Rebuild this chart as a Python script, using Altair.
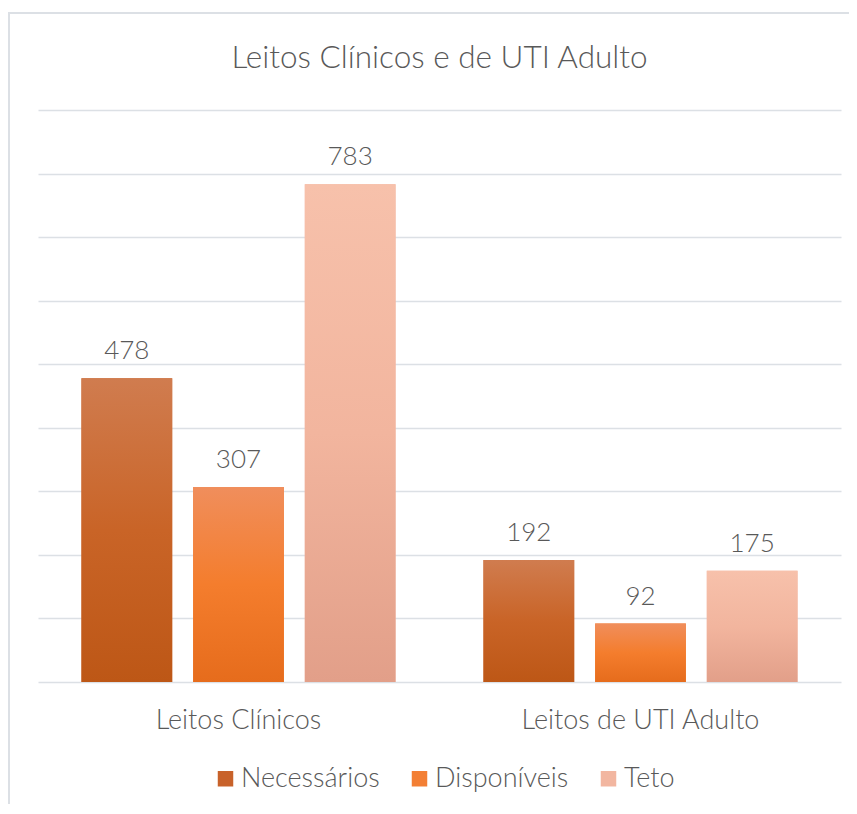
import altair as alt
import pandas as pd

categories = ["Leitos Clínicos", "Leitos de UTI Adulto"]
series = ["Necessários", "Disponíveis", "Teto"]
necessarios = [478, 192]
disponiveis = [307, 92]
teto = [783, 175]

rows = []
for i, c in enumerate(categories):
    for s, vals in zip(series, [necessarios, disponiveis, teto]):
        rows.append({"categoria": c, "serie": s, "valor": vals[i]})
df = pd.DataFrame(rows)

FONT = "Lato"
WEIGHT = 300
TXT = "#595959"
GRID = "#DCE0E5"

gradients = {
    "Necessários": ["#D07C4F", "#C96427", "#BD5716"],
    "Disponíveis": ["#F08E5C", "#F47D2D", "#E66C1C"],
    "Teto": ["#F7C1AB", "#F2B59E", "#E29F89"],
}
legend_colors = ["#C8622A", "#F37F34", "#F2B6A0"]

x = alt.X("categoria:N", sort=categories,
          scale=alt.Scale(paddingInner=0.16667, paddingOuter=0.08209),
          axis=alt.Axis(title=None, labelAngle=0, domain=False, ticks=False,
                        labelFont=FONT, labelFontSize=27, labelFontWeight=WEIGHT,
                        labelColor=TXT, labelPadding=25, labelLimit=0))
xo = alt.XOffset("serie:N", sort=series,
                 scale=alt.Scale(domain=series, paddingInner=0.1875, paddingOuter=0.09375))
y = alt.Y("valor:Q", scale=alt.Scale(domain=[0, 900]),
          axis=alt.Axis(title=None, labels=False, ticks=False, domain=False,
                        values=list(range(0, 901, 100)), grid=True,
                        gridColor=GRID, gridWidth=1.5))

base = alt.Chart(df)

legend_layer = base.mark_bar().encode(
    x=x, xOffset=xo, y=y,
    color=alt.Color("serie:N", sort=series,
                    scale=alt.Scale(domain=series, range=legend_colors),
                    legend=alt.Legend(title=None, orient="none", direction="horizontal",
                                      legendX=174, legendY=655, padding=0,
                                      symbolType="square", symbolSize=240,
                                      symbolStrokeWidth=0, labelFont=FONT,
                                      labelFontSize=27, labelFontWeight=WEIGHT,
                                      labelColor=TXT, labelOffset=2,
                                      columnPadding=26, labelLimit=0)),
)

layers = [legend_layer]
for s in series:
    c = gradients[s]
    grad = alt.Gradient(gradient="linear", x1=0, x2=0, y1=0, y2=1,
                        stops=[alt.GradientStop(offset=0, color=c[0]),
                               alt.GradientStop(offset=0.5, color=c[1]),
                               alt.GradientStop(offset=1, color=c[2])])
    layers.append(base.transform_filter(alt.datum.serie == s)
                  .mark_bar(color=grad).encode(x=x, xOffset=xo, y=y))

labels = base.mark_text(baseline="alphabetic", dy=-19, fontSize=26, color=TXT,
                        font=FONT, fontWeight=WEIGHT).encode(
    x=x, xOffset=xo, y=y, text="valor:Q")
layers.append(labels)

frame_df = pd.DataFrame({"k": [0]})
left_border = alt.Chart(frame_df).mark_rule(color="#DCE0E5", strokeWidth=2).encode(
    x=alt.value(-29), y=alt.value(-97), y2=alt.value(700))
top_border = alt.Chart(frame_df).mark_rule(color="#DCE0E5", strokeWidth=2).encode(
    y=alt.value(-97), x=alt.value(-30), x2=alt.value(815))
layers += [left_border, top_border]

chart = alt.layer(*layers).properties(
    width=803, height=572,
    autosize=alt.AutoSizeParams(type="none"),
    padding={"left": 30, "top": 102, "right": 8, "bottom": 122},
    title=alt.TitleParams("Leitos Clínicos e de UTI Adulto", font=FONT, fontSize=31.5,
                          fontWeight=WEIGHT, color=TXT, anchor="middle",
                          frame="group", offset=-62),
).configure_view(stroke=None)

chart.save("out.html", embed_options={"renderer": "svg", "actions": False})
